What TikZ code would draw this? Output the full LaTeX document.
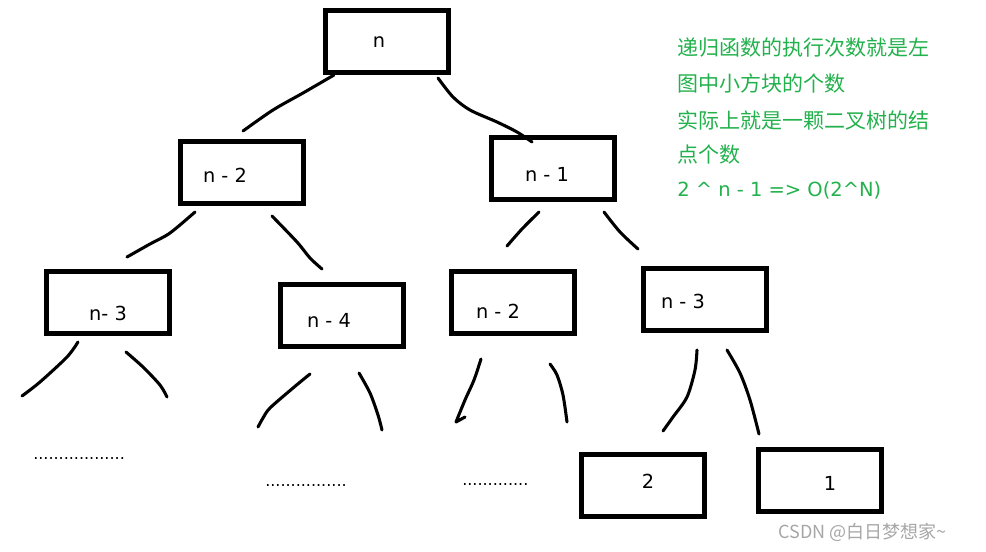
\documentclass[tikz,border=0pt]{standalone}
\usepackage{fontspec}
\setmainfont{DejaVu Sans}
\newfontfamily\cjk{Noto Sans CJK SC}
\usetikzlibrary{positioning}
\definecolor{notec}{HTML}{22B14C}
\definecolor{markc}{HTML}{A6A6A6}
\tikzset{
  box/.style={draw, line width=3.75pt, minimum width=92pt, minimum height=46.5pt, inner sep=0pt},
  lbl/.style={inner sep=0pt, font=\fontsize{14.5}{17}\selectfont},
  dots/.style={inner sep=0pt, anchor=base west, font=\fontsize{12}{14}\selectfont},
  stroke/.style={line width=2.3pt, line cap=round, line join=round},
  note/.style={inner sep=0pt, anchor=west, text=notec, font=\cjk\fontsize{15.75}{18}\selectfont},
}
\begin{document}
\begin{tikzpicture}[x=0.75pt, y=-0.75pt]
  \useasboundingbox (0,0) rectangle (986,551);
  % boxes
  \node[box] (root) at (387,41) {};
  \node[box] (l1a) at (242,172) {};
  \node[box] (l1b) at (553,168) {};
  \node[box] (l2a) at (108,302) {};
  \node[box] (l2b) at (342,315) {};
  \node[box] (l2c) at (513,302) {};
  \node[box] (l2d) at (705,299) {};
  \node[box] (leafb) at (643,485) {};
  \node[box] (leafa) at (820,480) {};
  % box texts
  \node[lbl] (troot) at (379,42) {n};
  \node[lbl] (tl1a) at (225,175) {n - 2};
  \node[lbl] (tl1b) at (547,174) {n - 1};
  \node[lbl] (tl2a) at (108,313) {n- 3};
  \node[lbl] (tl2b) at (329,320) {n - 4};
  \node[lbl] (tl2c) at (498,311) {n - 2};
  \node[lbl] (tl2d) at (683,301) {n - 3};
  \node[lbl] (tleafb) at (648,481) {2};
  \node[lbl] (tleafa) at (830,483) {1};
  % hand drawn strokes
  \draw[stroke] plot[smooth] coordinates {(334,75) (303,93) (273,110) (243,131)};
  \draw[stroke] plot[smooth] coordinates {(438,78) (453,97) (470,110) (497,122) (517,132) (532,142)};
  \draw[stroke] plot[smooth] coordinates {(195,212) (170,233) (150,244) (127,257)};
  \draw[stroke] plot[smooth] coordinates {(272,216) (297,242) (310,258) (322,269)};
  \draw[stroke] plot[smooth] coordinates {(539,212) (522,229) (507,246)};
  \draw[stroke] plot[smooth] coordinates {(604,212) (620,232) (638,249)};
  \draw[stroke] plot[smooth] coordinates {(78,342) (67,357) (40,382) (22,396)};
  \draw[stroke] plot[smooth] coordinates {(126,352) (143,367) (160,385) (167,397)};
  \draw[stroke] plot[smooth] coordinates {(310,374) (293,388) (270,408) (263,418) (258,427)};
  \draw[stroke] plot[smooth] coordinates {(359,373) (370,393) (378,415) (382,430)};
  \draw[stroke] plot[smooth] coordinates {(481,359) (474,380) (465,400) (456,422)} -- (465,417);
  \draw[stroke] plot[smooth] coordinates {(550,364) (557,375) (563,395) (567,422)};
  \draw[stroke] plot[smooth] coordinates {(697,350) (695,370) (687,397) (673,417) (663,431)};
  \draw[stroke] plot[smooth] coordinates {(727,350) (740,373) (750,400) (759,434)};
  % omitted subtrees
  \node[dots] (da) at (33,459) {..................};
  \node[dots] (db) at (265,486) {................};
  \node[dots] (dc) at (462,485) {.............};
  % note
  \node[note] (n1) at (677,48) {递归函数的执行次数就是左};
  \node[note] (n2) at (677,83) {图中小方块的个数};
  \node[note] (n3) at (677,120) {实际上就是一颗二叉树的结};
  \node[note] (n4) at (677,155) {点个数};
  \node[note, font=\fontsize{14.6}{17}\selectfont] (n5) at (677,190) {2 \^{} n - 1 => O(2\^{}N)};
  \node[inner sep=0pt, anchor=west, text=markc, font=\cjk\fontsize{13.5}{15}\selectfont] (mark) at (778,532) {CSDN @白日梦想家\textasciitilde};
\end{tikzpicture}
\end{document}
